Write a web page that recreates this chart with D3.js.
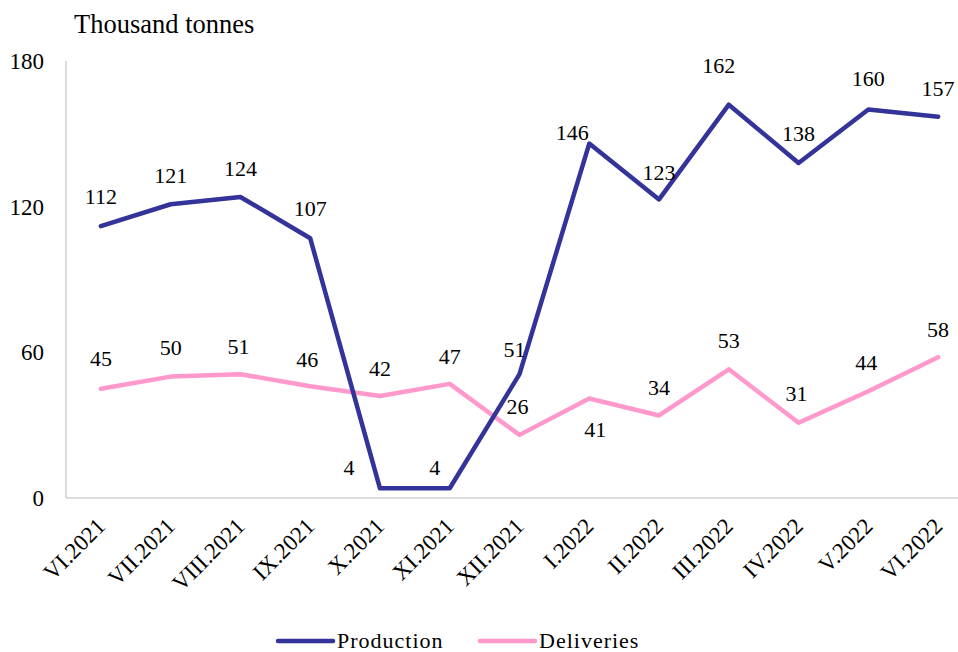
<!DOCTYPE html>
<html>
<head>
<meta charset="utf-8">
<script src="https://cdn.jsdelivr.net/npm/d3@7"></script>
<style>
  body { margin: 0; background: #fff; }
  text { font-family: "Liberation Serif", "DejaVu Serif", "Times New Roman", serif; fill: #000; }
</style>
</head>
<body>
<div id="chart"></div>
<script>
// data
var months = ['VI.2021','VII.2021','VIII.2021','IX.2021','X.2021','XI.2021','XII.2021',
  'I.2022','II.2022','III.2022','IV.2022','V.2022','VI.2022'];
var production = [112, 121, 124, 107, 4, 4, 51, 146, 123, 162, 138, 160, 157];
var deliveries = [45, 50, 51, 46, 42, 47, 26, 41, 34, 53, 31, 44, 58];
var yTicks = [0, 60, 120, 180];

// label nudges (px) where the label does not sit straight above the point
var prodLabelShift = [[0,-30],[0,-29],[0,-29],[0,-30],[-31,-21],[-15,-21],[-5,-25],
  [-17,-11],[0,-27],[-10,-39],[0,-30],[0,-31],[0,-29]];
var delLabelShift = [[0,-30],[0,-29],[-2,-28],[-3,-27],[0,-28],[0,-28],[-2,-29],
  [6,31],[0,-28],[0,-29],[-2,-29],[-2,-29],[0,-28]];

var svgWidth = 958, svgHeight = 652;
var plot = { l: 66, r: 973, t: 61, b: 498 };

var svg = d3.select('#chart').append('svg')
  .attr('width', svgWidth)
  .attr('height', svgHeight);

var xScale = d3.scalePoint()
  .domain(months)
  .range([plot.l, plot.r])
  .padding(0.5);

var yScale = d3.scaleLinear()
  .domain([0, 180])
  .range([plot.b, plot.t]);

// axis lines
svg.append('line')
  .attr('x1', plot.l).attr('x2', plot.l)
  .attr('y1', plot.t).attr('y2', plot.b)
  .attr('stroke', '#d0d0d0').attr('stroke-width', 1.5);
svg.append('line')
  .attr('x1', plot.l).attr('x2', svgWidth)
  .attr('y1', plot.b).attr('y2', plot.b)
  .attr('stroke', '#d0d0d0').attr('stroke-width', 1.5);

// y tick labels
svg.append('g').selectAll('text')
  .data(yTicks)
  .enter()
  .append('text')
  .attr('x', 44)
  .attr('y', d => yScale(d))
  .attr('dy', '0.35em')
  .attr('text-anchor', 'end')
  .style('font-size', '23px')
  .text(d => d);

// x tick labels, rotated
svg.append('g').selectAll('text')
  .data(months)
  .enter()
  .append('text')
  .attr('transform', d => `translate(${xScale(d)},522)rotate(-45)`)
  .attr('dy', '0.35em')
  .attr('text-anchor', 'end')
  .style('font-size', '23px')
  .text(d => d);

// unit title
svg.append('text')
  .attr('x', 74)
  .attr('y', 33)
  .style('font-size', '26.5px')
  .text('Thousand tonnes');

var line = d3.line()
  .x((d, i) => xScale(months[i]))
  .y(d => yScale(d));

var series = [
  { name: 'Production', values: production, color: '#333399', shift: prodLabelShift },
  { name: 'Deliveries', values: deliveries, color: '#ff99cc', shift: delLabelShift }
];

// draw deliveries first so production sits on top
series.slice().reverse().forEach(s => {
  svg.append('path')
    .datum(s.values)
    .attr('d', line)
    .attr('fill', 'none')
    .attr('stroke', s.color)
    .attr('stroke-width', 4.5)
    .attr('stroke-linejoin', 'round')
    .attr('stroke-linecap', 'round');
});

series.forEach(s => {
  svg.append('g').selectAll('text')
    .data(s.values)
    .enter()
    .append('text')
    .attr('x', (d, i) => xScale(months[i]) + s.shift[i][0])
    .attr('y', (d, i) => yScale(d) + s.shift[i][1])
    .attr('dy', '0.35em')
    .attr('text-anchor', 'middle')
    .style('font-size', '22px')
    .text(d => d);
});

// legend
var legend = svg.append('g').attr('transform', 'translate(0,640)');
var legendX = [278, 480];
series.forEach((s, i) => {
  legend.append('line')
    .attr('x1', legendX[i]).attr('x2', legendX[i] + 55)
    .attr('y1', 1).attr('y2', 1)
    .attr('stroke', s.color)
    .attr('stroke-width', 4.5)
    .attr('stroke-linecap', 'round');
  legend.append('text')
    .attr('x', legendX[i] + 59)
    .attr('y', 0)
    .attr('dy', '0.35em')
    .style('font-size', '22px')
    .style('letter-spacing', '1px')
    .text(s.name);
});
</script>
</body>
</html>
